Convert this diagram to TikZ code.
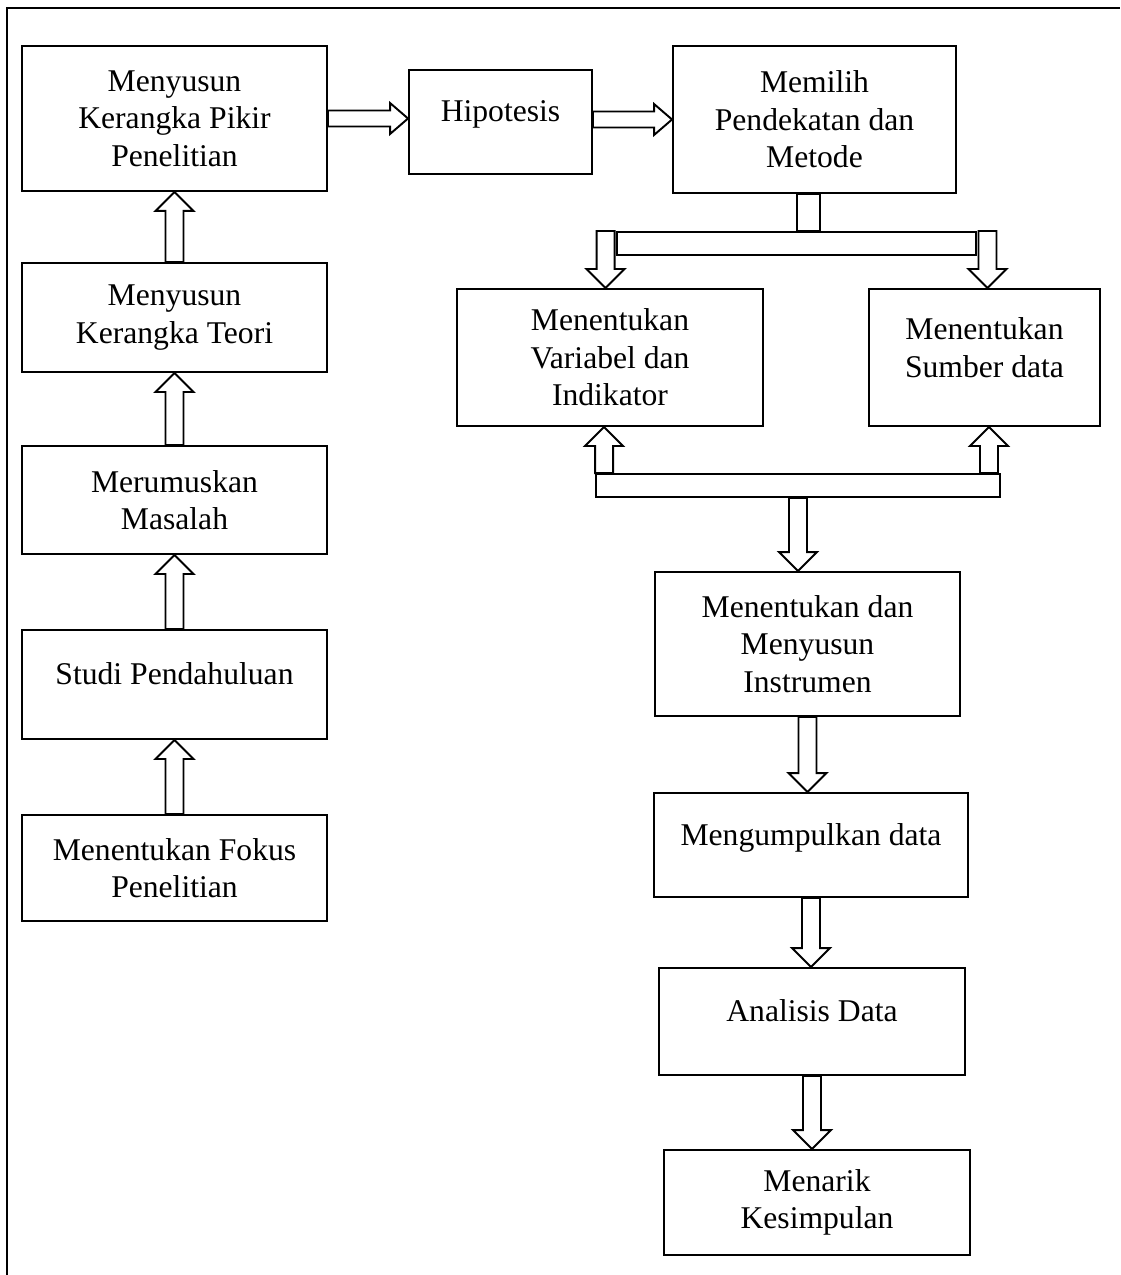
\documentclass[tikz,border=0pt]{standalone}
\usepackage{fontspec}
\setmainfont{Liberation Serif}
\usetikzlibrary{calc}

\tikzset{
  box/.style={draw, line width=1.1pt, align=center, inner sep=0pt,
    font=\fontsize{18}{21.3}\selectfont},
  satu/.style={text depth=12pt},
  bar/.style={draw, fill=white, line width=1.1pt, inner sep=0pt, minimum height=0.46cm},
  blk/.style={draw, fill=white, line width=1.1pt, line join=miter}
}

% hollow block arrows: #1 tail, #2 tip
\newcommand\vblk[2]{%
  \draw[blk] ($(#1)+(-0.18,0)$) -- ($(#2)!0.38cm!(#1)+(-0.18,0)$)
    -- ($(#2)!0.38cm!(#1)+(-0.38,0)$) -- (#2)
    -- ($(#2)!0.38cm!(#1)+(0.38,0)$) -- ($(#2)!0.38cm!(#1)+(0.18,0)$)
    -- ($(#1)+(0.18,0)$) -- cycle;}
\newcommand\hblk[2]{%
  \draw[blk] ($(#1)+(0,-0.16)$) -- ($(#2)!0.36cm!(#1)+(0,-0.16)$)
    -- ($(#2)!0.36cm!(#1)+(0,-0.31)$) -- (#2)
    -- ($(#2)!0.36cm!(#1)+(0,0.31)$) -- ($(#2)!0.36cm!(#1)+(0,0.16)$)
    -- ($(#1)+(0,0.16)$) -- cycle;}

\begin{document}
\begin{tikzpicture}
    \useasboundingbox (0,0) rectangle (22.4,-25.5);
    \draw[line width=1.1pt] (0.14,-25.5) -- (0.14,-0.16) -- (22.4,-0.16);

    % left column
    \node[box, minimum width=6.1cm, minimum height=2.9cm] (pikir) at (3.49,-2.37) {%
        Menyusun\\Kerangka Pikir\\Penelitian};
    \node[box, minimum width=6.1cm, minimum height=2.18cm] (teori) at (3.49,-6.35) {%
        Menyusun\\Kerangka Teori};
    \node[box, minimum width=6.1cm, minimum height=2.16cm] (masalah) at (3.49,-10.0) {%
        Merumuskan\\Masalah};
    \node[box, satu, minimum width=6.1cm, minimum height=2.18cm] (studi) at (3.49,-13.69) {%
        Studi Pendahuluan};
    \node[box, minimum width=6.1cm, minimum height=2.12cm] (fokus) at (3.49,-17.36) {%
        Menentukan Fokus\\Penelitian};

    % top row
    \node[box, satu, minimum width=3.66cm, minimum height=2.08cm] (hipotesis) at (10.01,-2.44) {%
        Hipotesis};
    \node[box, minimum width=5.66cm, minimum height=2.94cm] (metode) at (16.29,-2.39) {%
        Memilih\\Pendekatan dan\\Metode};

    % right column
    \node[box, minimum width=6.12cm, minimum height=2.74cm] (variabel) at (12.2,-7.15) {%
        Menentukan\\Variabel dan\\Indikator};
    \node[box, minimum width=4.62cm, minimum height=2.74cm] (sumber) at (19.69,-7.15) {%
        Menentukan\\Sumber data\\[-10pt]\mbox{}};
    \node[box, minimum width=6.1cm, minimum height=2.88cm] (instrumen) at (16.15,-12.88) {%
        Menentukan dan\\Menyusun\\Instrumen};
    \node[box, satu, minimum width=6.28cm, minimum height=2.08cm] (kumpul) at (16.22,-16.9) {%
        Mengumpulkan data};
    \node[box, satu, minimum width=6.12cm, minimum height=2.14cm] (analisis) at (16.24,-20.43) {%
        Analisis Data};
    \node[box, minimum width=6.12cm, minimum height=2.1cm] (simpul) at (16.34,-24.05) {%
        Menarik\\Kesimpulan};

    % branching bars
    \node[bar, minimum width=7.18cm] (cabang) at (15.93,-4.87) {};
    \node[bar, minimum width=8.08cm] (gabung) at (15.96,-9.71) {};

    \coordinate (s1) at ($(metode.south)+(-0.12,0)$);
    \coordinate (s2) at (s1 |- cabang.north);
    \coordinate (h1) at (pikir.east -| hipotesis.west);
    \coordinate (h2) at (hipotesis.east |- metode.west);
    \coordinate (d1) at ($(cabang.north west)+(-0.21,0)$);
    \coordinate (d1t) at (d1 |- variabel.north);
    \coordinate (d2) at ($(cabang.north east)+(0.21,0)$);
    \coordinate (d2t) at (d2 |- sumber.north);
    \coordinate (u1) at ($(gabung.north west)+(0.18,0)$);
    \coordinate (u1t) at (u1 |- variabel.south);
    \coordinate (u2) at ($(gabung.north east)+(-0.24,0)$);
    \coordinate (u2t) at (u2 |- sumber.south);
    \coordinate (g1) at (gabung.south |- instrumen.north);
    \coordinate (k1) at (instrumen.south |- kumpul.north);
    \coordinate (a1) at (kumpul.south |- analisis.north);
    \coordinate (m1) at (analisis.south |- simpul.north);

    \draw[blk] ($(s1)+(-0.23,0)$) rectangle ($(s2)+(0.23,0)$);

    \vblk{teori.north}{pikir.south}
    \vblk{masalah.north}{teori.south}
    \vblk{studi.north}{masalah.south}
    \vblk{fokus.north}{studi.south}
    \hblk{pikir.east}{h1}
    \hblk{h2}{metode.west}
    \vblk{d1}{d1t}
    \vblk{d2}{d2t}
    \vblk{u1}{u1t}
    \vblk{u2}{u2t}
    \vblk{gabung.south}{g1}
    \vblk{instrumen.south}{k1}
    \vblk{kumpul.south}{a1}
    \vblk{analisis.south}{m1}
\end{tikzpicture}
\end{document}
